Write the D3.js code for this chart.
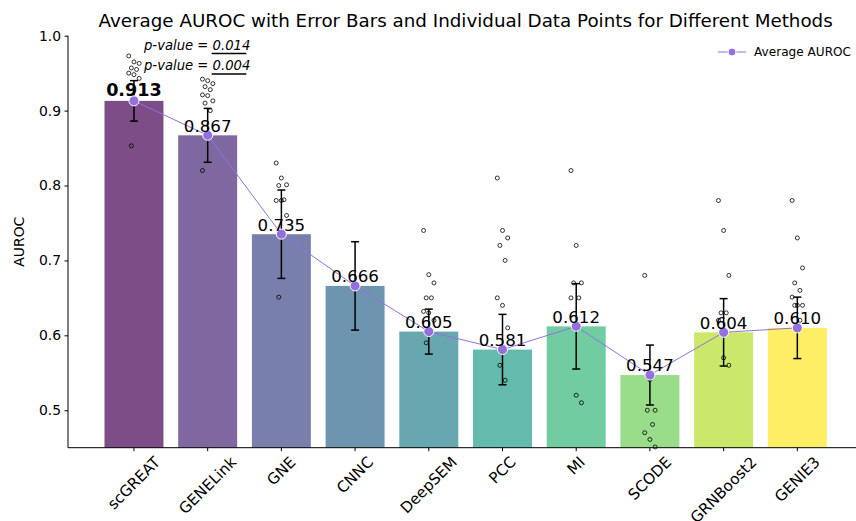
<!DOCTYPE html>
<html>
<head>
<meta charset="utf-8">
<script src="https://cdn.jsdelivr.net/npm/d3@7"></script>
<style>
  html, body { margin: 0; padding: 0; background: #fff; }
  svg { display: block; font-family: "DejaVu Sans", sans-serif; }
  .pre { white-space: pre; }
</style>
</head>
<body>
<svg id="chart" width="856" height="521"></svg>
<script>
// Methods compared and their average AUROC with error (half-width)
const methods = ["scGREAT", "GENELink", "GNE", "CNNC", "DeepSEM", "PCC", "MI", "SCODE", "GRNBoost2", "GENIE3"];
const meanAUROC = [0.913, 0.867, 0.735, 0.666, 0.605, 0.581, 0.612, 0.547, 0.604, 0.610];
const errAUROC = [0.027, 0.036, 0.059, 0.059, 0.030, 0.047, 0.057, 0.040, 0.045, 0.041];

// Individual AUROC values per method (same order as methods)
const individualAUROC = [
  [0.973, 0.965, 0.963, 0.957, 0.955, 0.950, 0.948, 0.943, 0.853],
  [0.942, 0.940, 0.936, 0.932, 0.928, 0.921, 0.920, 0.913, 0.910, 0.900, 0.820],
  [0.830, 0.810, 0.801, 0.800, 0.781, 0.780, 0.780, 0.760, 0.651],
  [],
  [0.740, 0.681, 0.670, 0.650, 0.650, 0.632, 0.630, 0.620, 0.590],
  [0.810, 0.740, 0.730, 0.720, 0.700, 0.650, 0.640, 0.610, 0.560, 0.540],
  [0.820, 0.720, 0.670, 0.670, 0.650, 0.650, 0.520, 0.510],
  [0.680, 0.541, 0.500, 0.500, 0.481, 0.470, 0.461, 0.451],
  [0.780, 0.740, 0.680, 0.630, 0.630, 0.620, 0.570, 0.560],
  [0.780, 0.730, 0.690, 0.670, 0.660, 0.651, 0.640, 0.640, 0.640, 0.620]
];

// Significance annotations
const pValues = ["0.014", "0.004"];
const yTicks = [0.5, 0.6, 0.7, 0.8, 0.9, 1.0];
const legendLabel = "Average AUROC";
const titleText = "Average AUROC with Error Bars and Individual Data Points for Different Methods";

(function draw() {
  const svg = d3.select("#chart");
  const plotLeft = 68, plotRight = 863.3, plotTop = 35.7, plotBottom = 447.7;

  const x = d3.scaleBand()
    .domain(methods)
    .range([plotLeft, plotRight])
    .paddingInner(0.2)
    .paddingOuter(0.495);
  const cx = m => x(m) + x.bandwidth() / 2;

  const y = d3.scaleLinear().domain([0.45, 1.0]).range([plotBottom, plotTop]);

  const color = i => d3.interpolateViridis(i / (methods.length - 1));

  // Bars
  svg.append("g").selectAll("rect")
    .data(methods)
    .join("rect")
    .attr("x", m => x(m))
    .attr("width", x.bandwidth())
    .attr("y", (m, i) => y(meanAUROC[i]))
    .attr("height", (m, i) => plotBottom - y(meanAUROC[i]))
    .attr("fill", (m, i) => color(i))
    .attr("fill-opacity", 0.7);

  // Error bars
  const eg = svg.append("g").attr("stroke", "#000").attr("stroke-width", 1.5);
  methods.forEach((m, i) => {
    const lo = y(meanAUROC[i] - errAUROC[i]);
    const hi = y(meanAUROC[i] + errAUROC[i]);
    const c = cx(m);
    eg.append("line").attr("x1", c).attr("x2", c).attr("y1", lo).attr("y2", hi);
    eg.append("line").attr("x1", c - 4).attr("x2", c + 4).attr("y1", lo).attr("y2", lo);
    eg.append("line").attr("x1", c - 4).attr("x2", c + 4).attr("y1", hi).attr("y2", hi);
  });

  // Individual data points with a small fixed horizontal spread
  const jitter = j => (((j * 7) % 5) - 2) * 2.6;
  const pg = svg.append("g");
  methods.forEach((m, i) => {
    pg.append("g").selectAll("circle")
      .data(individualAUROC[i])
      .join("circle")
      .attr("cx", (v, j) => cx(m) + jitter(j))
      .attr("cy", v => y(v))
      .attr("r", 2)
      .attr("fill", "none")
      .attr("stroke", "#000")
      .attr("stroke-width", 0.8);
  });

  // Average line with markers
  const lineColor = "#9370DB";
  const line = d3.line().x(d => cx(d.m)).y(d => y(d.v));
  const lineData = methods.map((m, i) => ({ m, v: meanAUROC[i] }));
  svg.append("path")
    .datum(lineData)
    .attr("d", line)
    .attr("fill", "none")
    .attr("stroke", lineColor)
    .attr("stroke-width", 1);
  svg.append("g").selectAll("circle")
    .data(lineData)
    .join("circle")
    .attr("cx", d => cx(d.m))
    .attr("cy", d => y(d.v))
    .attr("r", 5)
    .attr("fill", lineColor)
    .attr("stroke", "#fff")
    .attr("stroke-width", 1);

  // Value labels
  svg.append("g").selectAll("text")
    .data(lineData)
    .join("text")
    .attr("x", d => cx(d.m))
    .attr("y", (d, i) => y(d.v) - (i === 0 ? 4.6 : 3.7))
    .attr("text-anchor", "middle")
    .attr("font-size", (d, i) => i === 0 ? 17.6 : 16.67)
    .attr("font-weight", (d, i) => i === 0 ? "bold" : "normal")
    .attr("fill", "#000")
    .text(d => d.v.toFixed(3));

  // p-value annotations with underlined numbers
  pValues.forEach((p, k) => {
    const bx = 144, by = 49.5 + k * 20.5;
    const t1 = svg.append("text")
      .attr("class", "pre")
      .attr("x", bx).attr("y", by)
      .attr("font-size", 13.2).attr("font-style", "italic")
      .text("p-value = ");
    const w1 = t1.node().getComputedTextLength();
    const t2 = svg.append("text")
      .attr("x", bx + w1).attr("y", by)
      .attr("font-size", 13.2).attr("font-style", "italic")
      .text(p);
    const w2 = t2.node().getComputedTextLength();
    svg.append("line")
      .attr("x1", bx + w1 - 1).attr("x2", bx + w1 + w2 - 4)
      .attr("y1", by + 4).attr("y2", by + 4)
      .attr("stroke", "#000").attr("stroke-width", 1.6);
  });

  // Y axis
  const yAxis = svg.append("g").attr("transform", `translate(${plotLeft},0)`)
    .call(d3.axisLeft(y).tickValues(yTicks).tickFormat(d3.format(".1f")).tickSizeOuter(0).tickSize(3.5).tickPadding(3.5));
  yAxis.select(".domain").attr("d", `M0,${plotTop}V${plotBottom}`).attr("stroke-width", 1);
  yAxis.selectAll("text").attr("font-size", 13.9).attr("font-family", "DejaVu Sans").attr("fill", "#000");
  yAxis.selectAll("line").attr("stroke-width", 1);

  // X axis
  const xAxis = svg.append("g").attr("transform", `translate(0,${plotBottom})`)
    .call(d3.axisBottom(x).tickSize(3.5).tickSizeOuter(0).tickFormat(""));
  xAxis.select(".domain").attr("d", `M${plotLeft},0H${plotRight}`).attr("stroke-width", 1);
  xAxis.selectAll("line").attr("stroke-width", 1);

  // Rotated x tick labels, bounding box centred under each tick
  const labelTop = plotBottom + 6.5;
  const fs = 15.2;
  methods.forEach(m => {
    const t = svg.append("text")
      .attr("font-size", fs)
      .attr("text-anchor", "middle")
      .attr("dominant-baseline", "central")
      .attr("fill", "#000")
      .text(m);
    const w = t.node().getComputedTextLength();
    const h = fs * 1.0;
    const half = (w + h) * Math.SQRT1_2 / 2;
    t.attr("transform", `translate(${cx(m)},${labelTop + half}) rotate(-45)`);
  });

  // Y label
  svg.append("text")
    .attr("transform", `translate(24,${(plotTop + plotBottom) / 2}) rotate(-90)`)
    .attr("text-anchor", "middle")
    .attr("font-size", 13.9)
    .text("AUROC");

  // Title
  svg.append("text")
    .attr("x", (plotLeft + plotRight) / 2)
    .attr("y", 26.5)
    .attr("text-anchor", "middle")
    .attr("font-size", 18.3)
    .text(titleText);

  // Legend
  const lg = svg.append("g").attr("transform", "translate(718,52)");
  lg.append("line").attr("x1", 0).attr("x2", 28).attr("y1", 0).attr("y2", 0)
    .attr("stroke", lineColor).attr("stroke-width", 1);
  lg.append("circle").attr("cx", 14).attr("cy", 0).attr("r", 4)
    .attr("fill", lineColor).attr("stroke", "#fff").attr("stroke-width", 1);
  lg.append("text").attr("x", 36).attr("y", 0)
    .attr("dominant-baseline", "central")
    .attr("font-size", 12.1)
    .text(legendLabel);
})();
</script>
</body>
</html>
